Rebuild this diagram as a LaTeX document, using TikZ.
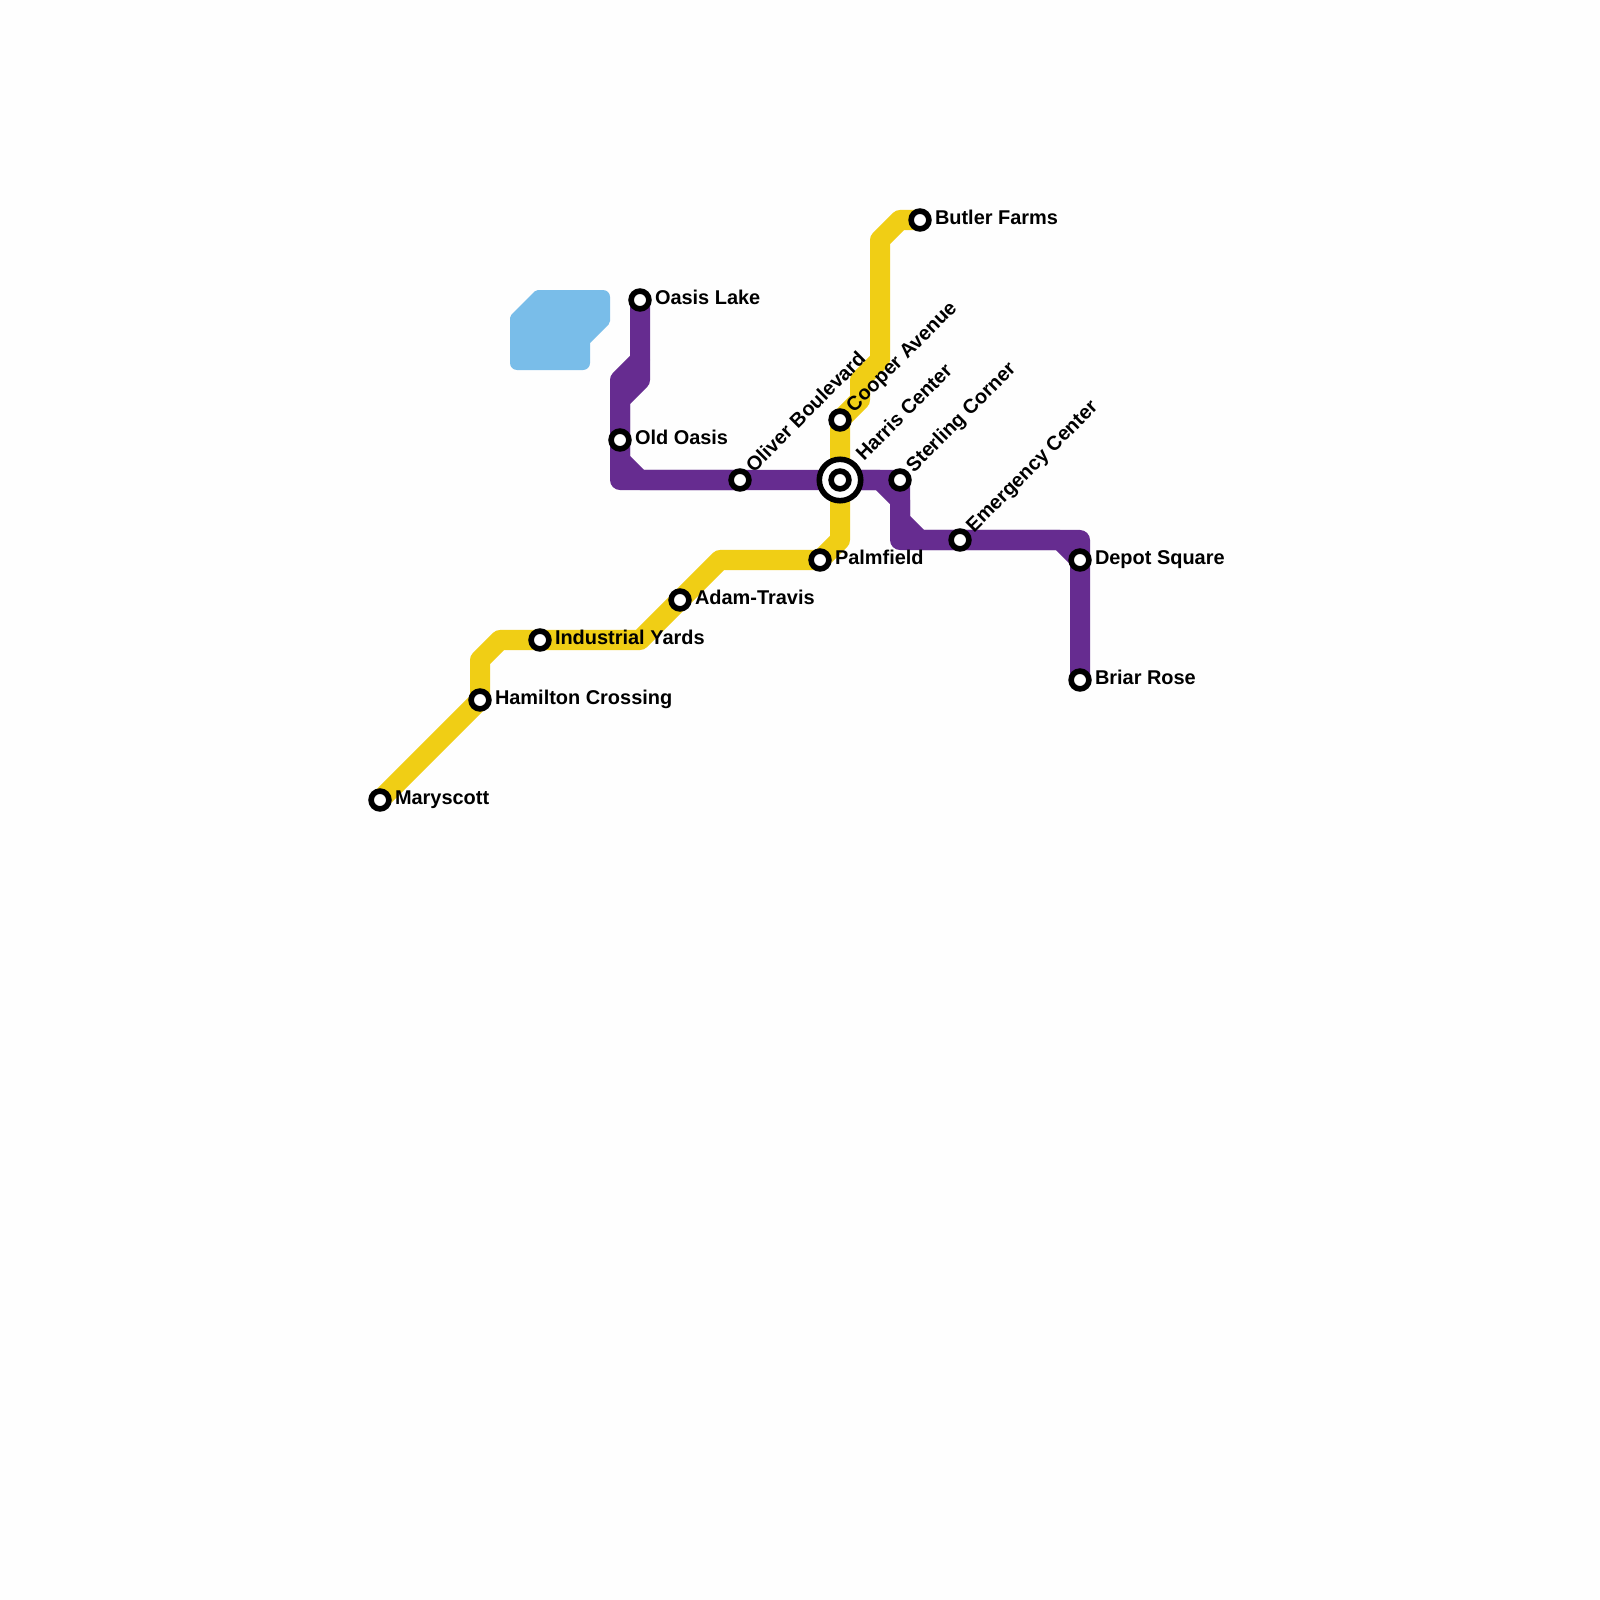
\documentclass[tikz,border=0pt]{standalone}
\usepackage{fontspec}
\setmainfont{Liberation Sans}
\definecolor{linepurple}{HTML}{662C90}
\definecolor{lineyellow}{HTML}{F0CE15}
\definecolor{waterblue}{HTML}{79BDE9}
\definecolor{pagebg}{HTML}{FEFEFE}
\tikzset{
  metro/.style={line width=0.2cm,line join=round,line cap=round},
  purpleline/.style={metro,draw=linepurple},
  yellowline/.style={metro,draw=lineyellow},
  stn/.style={circle,draw=black,fill=white,line width=0.056cm,minimum size=0.178cm,inner sep=0pt},
  hub/.style={circle,draw=black,fill=white,line width=0.056cm,minimum size=0.414cm,inner sep=0pt},
  lbl/.style={anchor=base west,inner sep=0pt,outer sep=0pt,font=\fontsize{5.67pt}{6.5pt}\selectfont\bfseries,text=black},
  rlbl/.style={lbl,rotate=45},
}
\begin{document}
\begin{tikzpicture}[x=0.01cm,y=-0.01cm]
\useasboundingbox (0,0) rectangle (1600,1600);
\fill[pagebg] (0,0) rectangle (1600,1600);
% water
\fill[waterblue,rounded corners=0.07cm] (550,370) -- (510,370) [rounded corners=0.02cm] -- (510,316) -- (536,290) [rounded corners=0.07cm] -- (610,290) [rounded corners=0.02cm] -- (610,323) [sharp corners] -- (590,343) [rounded corners=0.07cm] -- (590,370) -- cycle;
% station positions
\coordinate (pMary) at (380,800);
\coordinate (pHam) at (480,700);
\coordinate (pInd) at (540,640);
\coordinate (pAdam) at (680,600);
\coordinate (pPalm) at (820,560);
\coordinate (pHarris) at (840,480);
\coordinate (pCooper) at (840,420);
\coordinate (pButler) at (920,220);
\coordinate (pLake) at (640,300);
\coordinate (pOld) at (620,440);
\coordinate (pOliver) at (740,480);
\coordinate (pSter) at (900,480);
\coordinate (pEmer) at (960,540);
\coordinate (pDepot) at (1080,560);
\coordinate (pBriar) at (1080,680);
% yellow line
\draw[yellowline] (pMary) -- (pHam) -- (480,660) -- (500,640) -- (pInd) -- (640,640) -- (pAdam) -- (720,560) -- (pPalm) -- (840,540) -- (pHarris) -- (pCooper) -- (860,400) -- (860,380) -- (880,360) -- (880,240) -- (900,220) -- (pButler);
% purple line
\draw[purpleline] (pLake) -- (640,360) -- (620,380) -- (pOld) -- (620,480) -- (pOliver) -- (pHarris) -- (880,480) -- (900,500) -- (900,540) -- (pEmer) -- (1060,540) -- (pDepot) -- (pBriar);
\draw[purpleline] (640,360) -- (640,380) -- (620,400) -- (pOld) -- (620,460) -- (640,480) -- (pOliver);
\draw[purpleline] (pHarris) -- (pSter) -- (900,520) -- (920,540) -- (pEmer) -- (1080,540) -- (pDepot);
% stations
\node[stn] (sMary) at (pMary) {};
\node[stn] (sHam) at (pHam) {};
\node[stn] (sInd) at (pInd) {};
\node[stn] (sAdam) at (pAdam) {};
\node[stn] (sPalm) at (pPalm) {};
\node[hub] (sHarrisRing) at (pHarris) {};
\node[stn] (sHarris) at (pHarris) {};
\node[stn] (sCooper) at (pCooper) {};
\node[stn] (sButler) at (pButler) {};
\node[stn] (sLake) at (pLake) {};
\node[stn] (sOld) at (pOld) {};
\node[stn] (sOliver) at (pOliver) {};
\node[stn] (sSter) at (pSter) {};
\node[stn] (sEmer) at (pEmer) {};
\node[stn] (sDepot) at (pDepot) {};
\node[stn] (sBriar) at (pBriar) {};
% labels
\node[lbl] (lMary) at (395,804.8) {Maryscott};
\node[lbl] (lHam) at (495,704.8) {Hamilton Crossing};
\node[lbl] (lInd) at (555,644.8) {Industrial Yards};
\node[lbl] (lAdam) at (695,604.8) {Adam-Travis};
\node[lbl] (lPalm) at (835,564.8) {Palmfield};
\node[lbl] (lButler) at (935,225) {Butler Farms};
\node[lbl] (lLake) at (655,304.5) {Oasis Lake};
\node[lbl] (lOld) at (635,444.5) {Old Oasis};
\node[lbl] (lDepot) at (1095,564.8) {Depot Square};
\node[lbl] (lBriar) at (1095,684.8) {Briar Rose};
\node[rlbl] (lOliver) at (754,473) {Oliver Boulevard};
\node[rlbl] (lHarris) at (864,461.5) {Harris Center};
\node[rlbl] (lCooper) at (854,413) {Cooper Avenue};
\node[rlbl] (lSter) at (914,473) {Sterling Corner};
\node[rlbl] (lEmer) at (974,533) {Emergency Center};
\end{tikzpicture}
\end{document}
